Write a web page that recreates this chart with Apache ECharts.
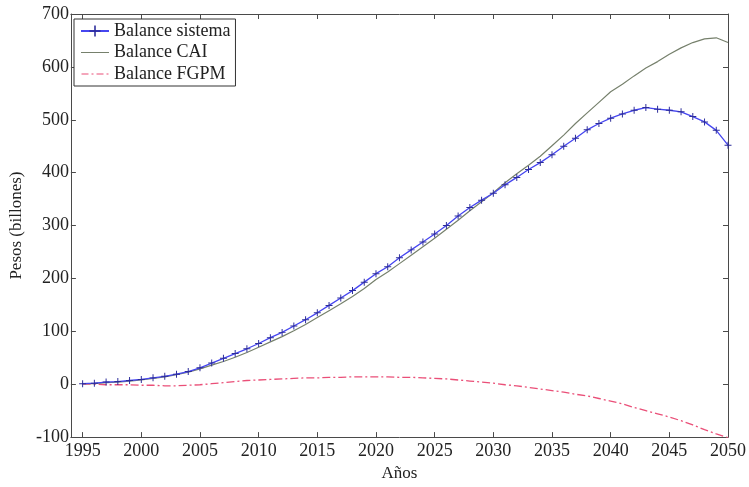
<!DOCTYPE html>
<html>
<head>
<meta charset="utf-8">
<script src="https://cdn.jsdelivr.net/npm/echarts@6/dist/echarts.min.js"></script>
<style>
  html, body { margin: 0; padding: 0; background: #ffffff; overflow: hidden; }
  #chart { width: 749px; height: 487px; }
</style>
</head>
<body>
<div id="chart"></div>
<script>
// Años de proyección
const years = [];
for (let y = 1995; y <= 2050; y++) years.push(y);

// Balance del sistema (billones de pesos)
const balanceSistema = [
  1, 2, 4, 5, 7, 9, 12, 15, 19, 24,
  31, 40, 49, 58, 67, 77, 88, 98, 110, 122,
  135, 149, 163, 177, 193, 209, 222, 239, 254, 269,
  284, 300, 318, 334, 348, 361, 377, 391, 406, 419,
  434, 450, 465, 481, 493, 503, 511, 518, 523, 520,
  518, 515, 506, 496, 480, 452
];

// Balance CAI
const balanceCAI = [
  1, 1, 3, 4, 6, 8, 11, 14, 18, 23,
  29, 36, 43, 51, 60, 70, 80, 90, 101, 113,
  126, 139, 152, 166, 181, 198, 212, 228, 244, 260,
  276, 293, 310, 328, 345, 362, 381, 398, 414, 431,
  451, 471, 493, 513, 533, 553, 567, 583, 598, 610,
  624, 636, 646, 653, 655, 646
];

// Balance FGPM
const balanceFGPM = [
  0, 0, -1, -1, -1, -2, -2, -3, -3, -2,
  -1, 1, 3, 5, 7, 8, 9, 10, 11, 12,
  12, 13, 13, 14, 14, 14, 14, 13, 13, 12,
  11, 10, 8, 6, 4, 2, -1, -3, -6, -9,
  -12, -15, -19, -22, -27, -32, -37, -44, -50, -56,
  -62, -69, -77, -86, -94, -101
];

// Marcas del eje horizontal
const xTicks = [1995, 2000, 2005, 2010, 2015, 2020, 2025, 2030, 2035, 2040, 2045, 2050];

const pairs = vals => years.map((y, i) => [y, vals[i]]);

const font = 'Liberation Serif';
const ink = '#222222';
const axisInk = '#4a4a4a';

const chart = echarts.init(document.getElementById('chart'), null, { renderer: 'canvas' });

const plusSymbol = 'path://M4.3,0H5.7V10H4.3ZM0,4.3H10V5.7H0Z';
// Iconos de leyenda: caja de 28x14 con un trazo centrado
const frame = 'M0,0h0.01v0.01h-0.01zM0,13.99h0.01v0.01h-0.01z';
const solidIcon = 'path://' + frame + 'M0,6.4H28V7.6H0Z';
const dashDotIcon = 'path://' + frame + 'M0,6.4H7V7.6H0ZM10,6.4H12V7.6H10ZM15,6.4H22V7.6H15ZM25,6.4H27V7.6H25Z';

chart.setOption({
  backgroundColor: '#ffffff',
  animation: false,
  grid: { left: 69, right: 16, top: 14, bottom: 41, containLabel: false },
  legend: {
    orient: 'vertical',
    left: 74,
    top: 19,
    padding: [3, 5, 3, 6],
    itemGap: 3.5,
    itemWidth: 28,
    itemHeight: 14,
    borderColor: '#333333',
    borderWidth: 1,
    backgroundColor: '#ffffff',
    textStyle: { fontFamily: font, fontSize: 18, color: ink, lineHeight: 18 },
    data: [
      { name: 'Balance sistema' },
      { name: 'Balance CAI', icon: solidIcon },
      { name: 'Balance FGPM', icon: dashDotIcon }
    ]
  },
  xAxis: [
    {
      type: 'value',
      min: 1994,
      max: 2050,
      name: 'Años',
      nameLocation: 'middle',
      nameGap: 23,
      nameTextStyle: { fontFamily: font, fontSize: 17, color: ink },
      axisLine: { onZero: false, lineStyle: { color: axisInk, width: 1 } },
      axisTick: { inside: true, length: 5, customValues: xTicks, lineStyle: { color: axisInk } },
      axisLabel: {
        customValues: xTicks,
        formatter: v => String(v),
        fontFamily: font, fontSize: 18, color: ink, margin: 5
      },
      splitLine: { show: false }
    },
    {
      type: 'value',
      position: 'top',
      min: 1994,
      max: 2050,
      axisLine: { onZero: false, lineStyle: { color: axisInk, width: 1 } },
      axisTick: { inside: true, length: 5, customValues: xTicks, lineStyle: { color: axisInk } },
      axisLabel: { show: false },
      splitLine: { show: false }
    }
  ],
  yAxis: [
    {
      type: 'value',
      min: -100,
      max: 700,
      interval: 100,
      name: 'Pesos (billones)',
      nameLocation: 'middle',
      nameGap: 41,
      nameTextStyle: { fontFamily: font, fontSize: 17, color: ink },
      axisLine: { show: true, onZero: false, lineStyle: { color: axisInk, width: 1 } },
      axisTick: { show: true, inside: true, length: 5, lineStyle: { color: axisInk } },
      axisLabel: { fontFamily: font, fontSize: 18, color: ink, margin: 2 },
      splitLine: { show: false }
    },
    {
      type: 'value',
      position: 'right',
      min: -100,
      max: 700,
      interval: 100,
      axisLine: { show: true, onZero: false, lineStyle: { color: axisInk, width: 1 } },
      axisTick: { show: true, inside: true, length: 5, lineStyle: { color: axisInk } },
      axisLabel: { show: false },
      splitLine: { show: false }
    }
  ],
  series: [
    {
      name: 'Balance FGPM',
      type: 'line',
      data: pairs(balanceFGPM),
      symbol: 'none',
      lineStyle: { color: '#ea4f78', width: 1.3, type: [8, 3, 2, 3] },
      itemStyle: { color: '#ea4f78' },
      z: 2
    },
    {
      name: 'Balance CAI',
      type: 'line',
      data: pairs(balanceCAI),
      symbol: 'none',
      lineStyle: { color: '#76806c', width: 1.2 },
      itemStyle: { color: '#76806c' },
      z: 3
    },
    {
      name: 'Balance sistema',
      type: 'line',
      data: pairs(balanceSistema),
      symbol: plusSymbol,
      symbolSize: 7,
      showAllSymbol: true,
      lineStyle: { color: '#4646f0', width: 1.3 },
      itemStyle: { color: '#2c2c9a' },
      z: 4
    }
  ]
});
</script>
</body>
</html>
